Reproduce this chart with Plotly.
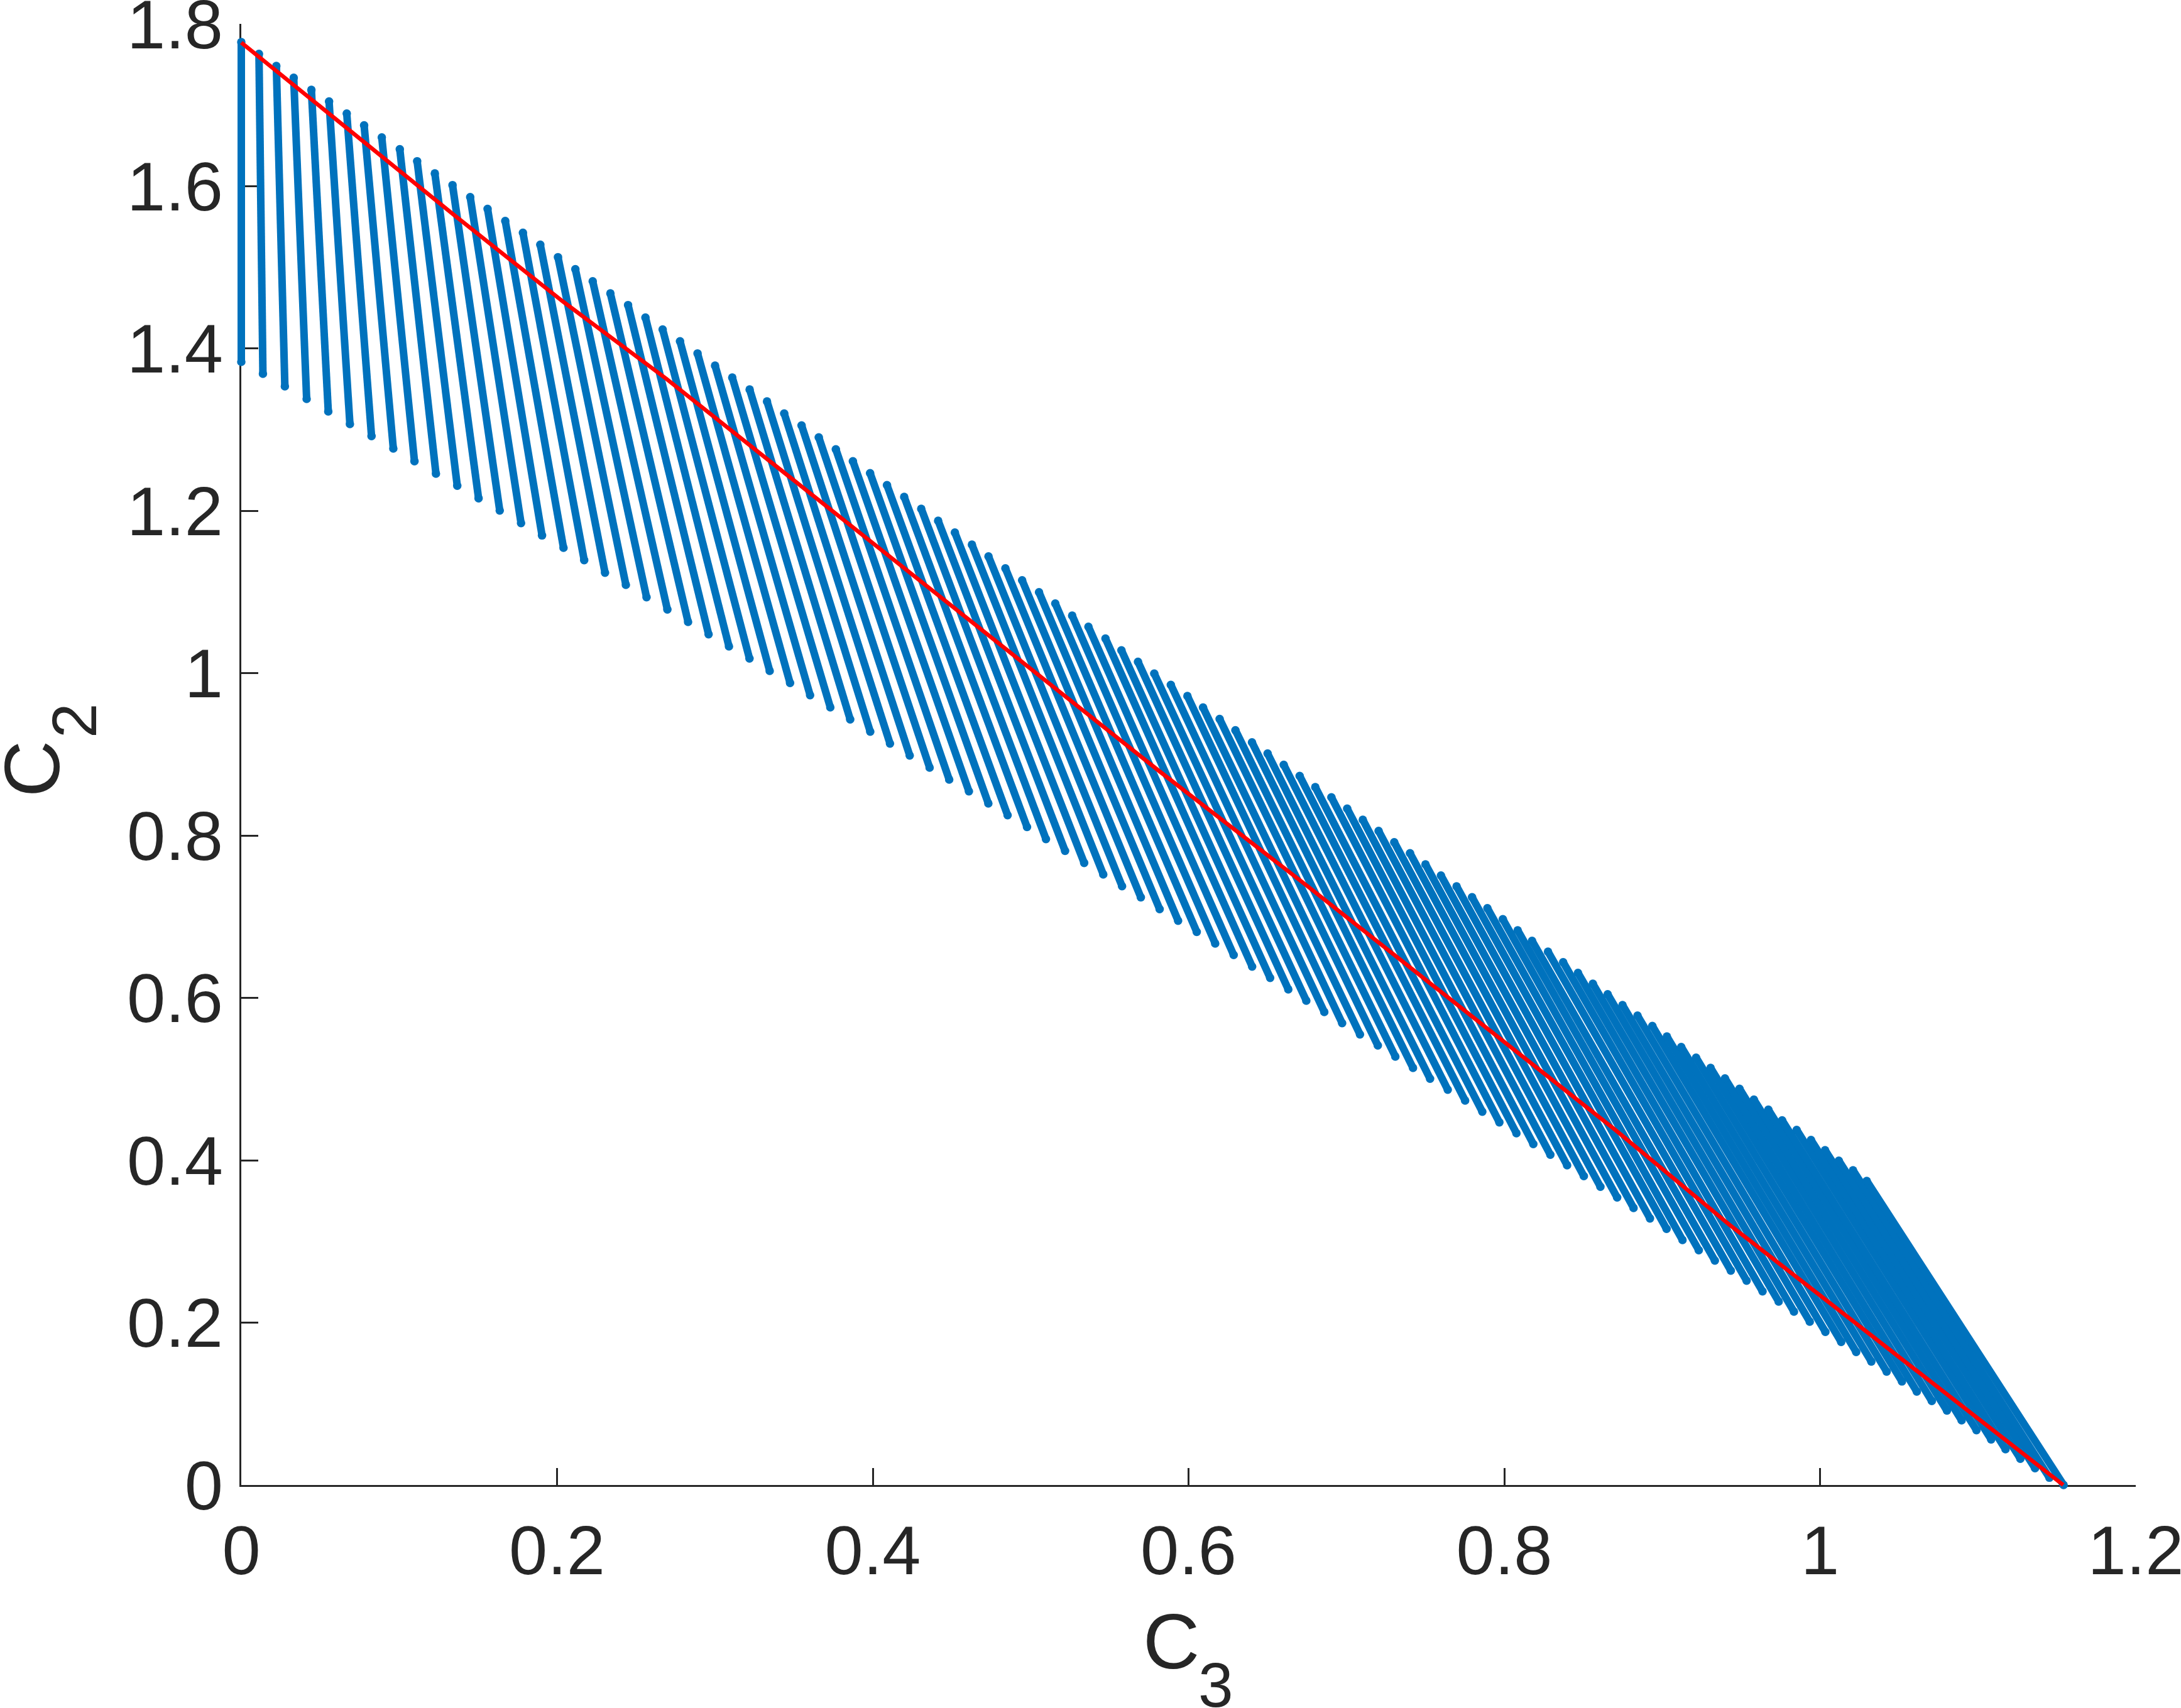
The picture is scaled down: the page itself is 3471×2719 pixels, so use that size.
import plotly.graph_objects as go

# Upper end of each strand of the feasible family
top_c3 = [0.0000, 0.0112, 0.0222, 0.0332, 0.0444, 0.0556, 0.0668, 0.0778, 0.0890, 0.1004,
          0.1114, 0.1226, 0.1338, 0.1450, 0.1560, 0.1672, 0.1784, 0.1894, 0.2006, 0.2116,
          0.2226, 0.2338, 0.2450, 0.2560, 0.2669, 0.2779, 0.2890, 0.3001, 0.3110, 0.3220,
          0.3330, 0.3439, 0.3549, 0.3658, 0.3766, 0.3874, 0.3983, 0.4090, 0.4199, 0.4307,
          0.4414, 0.4520, 0.4628, 0.4733, 0.4840, 0.4946, 0.5053, 0.5156, 0.5263, 0.5366,
          0.5474, 0.5575, 0.5680, 0.5783, 0.5888, 0.5993, 0.6092, 0.6197, 0.6297, 0.6402,
          0.6501, 0.6603, 0.6704, 0.6803, 0.6905, 0.7005, 0.7104, 0.7204, 0.7303, 0.7403,
          0.7501, 0.7599, 0.7698, 0.7796, 0.7893, 0.7991, 0.8085, 0.8176, 0.8277, 0.8373,
          0.8467, 0.8561, 0.8655, 0.8749, 0.8844, 0.8938, 0.9030, 0.9121, 0.9215, 0.9307,
          0.9398, 0.9490, 0.9581, 0.9673, 0.9760, 0.9852, 0.9943, 1.0032, 1.0119, 1.0209,
          1.0296]
top_c2 = [1.7776, 1.7631, 1.7482, 1.7337, 1.7188, 1.7044, 1.6895, 1.6750, 1.6601, 1.6456,
          1.6308, 1.6159, 1.6014, 1.5866, 1.5721, 1.5572, 1.5427, 1.5279, 1.5126, 1.4978,
          1.4829, 1.4680, 1.4536, 1.4383, 1.4235, 1.4090, 1.3940, 1.3790, 1.3643, 1.3496,
          1.3349, 1.3200, 1.3053, 1.2906, 1.2759, 1.2612, 1.2465, 1.2318, 1.2173, 1.2026,
          1.1879, 1.1733, 1.1585, 1.1440, 1.1292, 1.1146, 1.0998, 1.0860, 1.0711, 1.0573,
          1.0428, 1.0282, 1.0141, 0.9996, 0.9857, 0.9720, 0.9578, 0.9437, 0.9298, 0.9149,
          0.9011, 0.8873, 0.8735, 0.8597, 0.8472, 0.8332, 0.8195, 0.8058, 0.7919, 0.7783,
          0.7646, 0.7509, 0.7375, 0.7241, 0.7106, 0.6970, 0.6833, 0.6704, 0.6570, 0.6441,
          0.6309, 0.6175, 0.6046, 0.5912, 0.5783, 0.5655, 0.5525, 0.5396, 0.5265, 0.5138,
          0.5009, 0.4881, 0.4748, 0.4623, 0.4492, 0.4375, 0.4250, 0.4125, 0.3995, 0.3877,
          0.3745]

# Lower end of each strand
bot_c3 = [0.0000, 0.0137, 0.0276, 0.0414, 0.0551, 0.0688, 0.0825, 0.0963, 0.1097, 0.1233,
          0.1368, 0.1503, 0.1637, 0.1772, 0.1905, 0.2041, 0.2172, 0.2304, 0.2436, 0.2567,
          0.2699, 0.2830, 0.2960, 0.3089, 0.3219, 0.3347, 0.3476, 0.3603, 0.3731, 0.3857,
          0.3984, 0.4109, 0.4234, 0.4360, 0.4484, 0.4609, 0.4732, 0.4854, 0.4977, 0.5097,
          0.5218, 0.5339, 0.5460, 0.5579, 0.5698, 0.5817, 0.5934, 0.6052, 0.6169, 0.6286,
          0.6403, 0.6517, 0.6632, 0.6746, 0.6860, 0.6973, 0.7086, 0.7199, 0.7310, 0.7422,
          0.7530, 0.7642, 0.7752, 0.7861, 0.7969, 0.8077, 0.8184, 0.8292, 0.8398, 0.8504,
          0.8609, 0.8715, 0.8819, 0.8923, 0.9028, 0.9129, 0.9232, 0.9334, 0.9435, 0.9535,
          0.9636, 0.9738, 0.9835, 0.9935, 1.0034, 1.0134, 1.0229, 1.0325, 1.0422, 1.0519,
          1.0613, 1.0708, 1.0804, 1.0897, 1.0991, 1.1084, 1.1175, 1.1269, 1.1362, 1.1453,
          1.1543]
bot_c2 = [1.3837, 1.3690, 1.3535, 1.3380, 1.3225, 1.3071, 1.2921, 1.2769, 1.2612, 1.2459,
          1.2310, 1.2155, 1.2005, 1.1850, 1.1698, 1.1546, 1.1394, 1.1239, 1.1090, 1.0937,
          1.0785, 1.0633, 1.0480, 1.0331, 1.0182, 1.0029, 0.9880, 0.9730, 0.9580, 0.9431,
          0.9281, 0.9134, 0.8987, 0.8838, 0.8691, 0.8545, 0.8396, 0.8251, 0.8106, 0.7958,
          0.7812, 0.7664, 0.7522, 0.7377, 0.7239, 0.7094, 0.6952, 0.6814, 0.6671, 0.6529,
          0.6387, 0.6247, 0.6106, 0.5967, 0.5827, 0.5690, 0.5551, 0.5415, 0.5278, 0.5138,
          0.5005, 0.4870, 0.4736, 0.4599, 0.4468, 0.4334, 0.4200, 0.4068, 0.3939, 0.3805,
          0.3674, 0.3542, 0.3413, 0.3284, 0.3155, 0.3018, 0.2893, 0.2765, 0.2640, 0.2517,
          0.2385, 0.2260, 0.2136, 0.2012, 0.1887, 0.1763, 0.1639, 0.1521, 0.1397, 0.1276,
          0.1152, 0.1035, 0.0917, 0.0797, 0.0676, 0.0562, 0.0441, 0.0324, 0.0207, 0.0090,
          0.0000]

# Boundary curve drawn across the strands
curve_c3 = [0.0000, 0.0669, 0.1344, 0.2037, 0.2691, 0.3460, 0.4044, 0.5110, 0.5820, 0.6750,
            0.7493, 0.8103, 0.8701, 0.9429, 1.0323, 1.0952, 1.1541]
curve_c2 = [1.7770, 1.6708, 1.5651, 1.4580, 1.3630, 1.2439, 1.1533, 0.9892, 0.8786, 0.7383,
            0.6235, 0.5293, 0.4378, 0.3202, 0.1852, 0.0892, 0.0000]

x_ticks = [0, 0.2, 0.4, 0.6, 0.8, 1, 1.2]
y_ticks = [0, 0.2, 0.4, 0.6, 0.8, 1, 1.2, 1.4, 1.6, 1.8]

BLUE = "#0072BD"
INK = "#262626"
FONT = "Liberation Sans"

# The marks live on a hidden axis pair that reaches a little past the visible
# axes, so strands sitting on C3 = 0 and the end at C2 = 0 keep their full width.
PLOT_W, PLOT_H = 3031, 2342
PAD = 16
X_MAX, Y_MAX = 1.2, 1.8
x_unit = (PLOT_W - PAD) / X_MAX
y_unit = (PLOT_H - PAD) / Y_MAX

strand_x, strand_y = [], []
for xa, ya, xb, yb in zip(top_c3, top_c2, bot_c3, bot_c2):
    strand_x += [xa, xb, None]
    strand_y += [ya, yb, None]

fig = go.Figure()
fig.add_trace(go.Scatter(x=[None], y=[None], xaxis="x", yaxis="y", showlegend=False,
                         hoverinfo="skip"))
fig.add_trace(go.Scatter(
    x=strand_x, y=strand_y, xaxis="x2", yaxis="y2", mode="lines+markers",
    line=dict(color=BLUE, width=12),
    marker=dict(color=BLUE, size=13.5),
    cliponaxis=False, showlegend=False,
))
fig.add_trace(go.Scatter(
    x=curve_c3, y=curve_c2, xaxis="x2", yaxis="y2", mode="lines",
    line=dict(color="#FF0000", width=6.5),
    cliponaxis=False, showlegend=False,
))

axis_style = dict(
    showgrid=False, zeroline=False, showline=True, linecolor=INK, linewidth=3,
    ticks="inside", ticklen=27, tickwidth=3, tickcolor=INK, layer="below traces",
    ticklabeloverflow="allow",
    tickfont=dict(family=FONT, size=110, color=INK),
)


def axis_note(text, size, x, y, angle=0):
    fig.add_annotation(text=text, xref="paper", yref="paper", x=x, y=y, showarrow=False,
                       textangle=angle, xanchor="center", yanchor="middle",
                       font=dict(family=FONT, size=size, color=INK))


axis_note("C", 125, 0.4936, -0.0991)
axis_note("3", 100, 0.5170, -0.1289)
axis_note("C", 125, -0.1046, 0.4936, -90)
axis_note("2", 100, -0.0825, 0.5265, -90)

fig.update_layout(
    width=3471, height=2719, autosize=False,
    margin=dict(l=368, r=72, t=38, b=339, pad=0, autoexpand=False),
    paper_bgcolor="white", plot_bgcolor="rgba(0,0,0,0)",
    font=dict(family=FONT, color=INK),
    xaxis=dict(domain=[PAD / PLOT_W, 1], range=[0, X_MAX], tickvals=x_ticks,
               ticktext=[str(v) for v in x_ticks], ticklabelstandoff=7, anchor="y", **axis_style),
    yaxis=dict(domain=[PAD / PLOT_H, 1], range=[0, Y_MAX], tickvals=y_ticks,
               ticktext=[str(v) for v in y_ticks], ticklabelstandoff=4, anchor="x", **axis_style),
    xaxis2=dict(domain=[0, 1], range=[-PAD / x_unit, X_MAX], visible=False, anchor="y2"),
    yaxis2=dict(domain=[0, 1], range=[-PAD / y_unit, Y_MAX], visible=False, anchor="x2"),
)
fig.write_html("out.html")
